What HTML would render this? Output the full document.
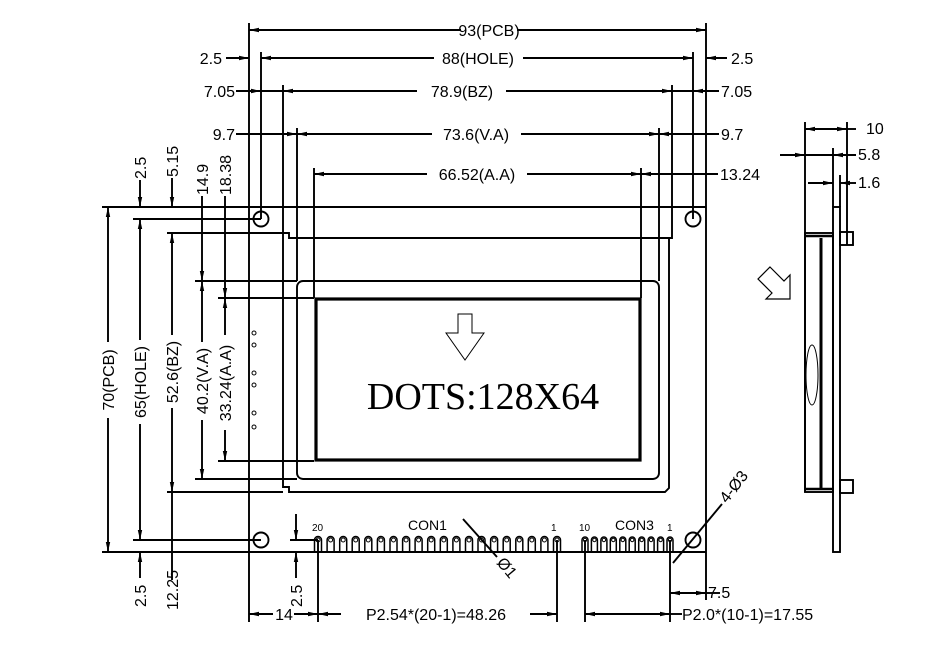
<!DOCTYPE html>
<html><head><meta charset="utf-8"><style>
body{margin:0;background:#fff}
svg{display:block}
text{font-family:"Liberation Sans",sans-serif;font-size:16px;fill:#000}
</style></head><body>
<svg width="942" height="659" viewBox="0 0 942 659" xmlns="http://www.w3.org/2000/svg">
<defs>
<marker id="a" markerWidth="10" markerHeight="6" refX="10" refY="3" orient="auto-start-reverse" markerUnits="userSpaceOnUse"><path d="M0,0.8 L10,3 L0,5.2z" fill="#000"/></marker>
<g id="p1"><path d="M-3.5,552 V540 A3.5,3.5 0 0 1 3.5,540 V552" fill="none" stroke="#000" stroke-width="1.5"/><circle cx="0" cy="540" r="2" fill="none" stroke="#000" stroke-width="1"/></g>
<g id="p3"><path d="M-3,552 V540 A3,3 0 0 1 3,540 V552" fill="none" stroke="#000" stroke-width="1.5"/><circle cx="0" cy="540" r="1.7" fill="none" stroke="#000" stroke-width="1"/></g>
</defs>
<g stroke="#000" stroke-width="1.9" fill="none">
<line x1="102" y1="207" x2="706" y2="207"/>
<line x1="102" y1="552" x2="706" y2="552"/>
<line x1="249" y1="23" x2="249" y2="622"/>
<line x1="706" y1="23" x2="706" y2="600"/>
<circle cx="261" cy="219" r="7.5"/><circle cx="693" cy="219" r="7.5"/>
<circle cx="261" cy="540" r="7.5"/><circle cx="693" cy="540" r="7.5"/>
<line x1="261" y1="52" x2="261" y2="219"/><line x1="693" y1="52" x2="693" y2="219"/>
<line x1="133" y1="219" x2="261" y2="219"/><line x1="133" y1="540" x2="261" y2="540"/>
<path d="M283,85 V233 H289 V238 H672 V85"/>
<path d="M167,233 H283"/>
<path d="M283,233 V487 H289 V492 H665 L669,488 V238"/>
<path d="M167,492 H283"/>
<rect x="297" y="281" width="362" height="198" rx="6"/>
<line x1="297" y1="128" x2="297" y2="281"/><line x1="659" y1="128" x2="659" y2="281"/>
<line x1="195" y1="281" x2="297" y2="281"/><line x1="195" y1="479" x2="297" y2="479"/>
<line x1="314" y1="168" x2="314" y2="298"/><line x1="641" y1="168" x2="641" y2="298"/>
<line x1="218" y1="298" x2="314" y2="298"/><line x1="218" y1="461" x2="314" y2="461"/>
<rect x="316" y="299" width="324" height="161" stroke-width="3.2"/>
<path d="M458,314 H472 V333 H484 L465,360 L446,333 H458 Z" stroke-width="1"/>
<line x1="249" y1="30" x2="461" y2="30" marker-start="url(#a)"/>
<line x1="517" y1="30" x2="706" y2="30" marker-end="url(#a)"/>
<line x1="226" y1="58" x2="249" y2="58" marker-end="url(#a)"/>
<line x1="261" y1="58" x2="434" y2="58" marker-start="url(#a)"/>
<line x1="523" y1="58" x2="693" y2="58" marker-end="url(#a)"/>
<line x1="706" y1="58" x2="727" y2="58" marker-start="url(#a)"/>
<line x1="236" y1="91" x2="283" y2="91"/><line x1="236" y1="91" x2="261" y2="91" marker-end="url(#a)"/>
<line x1="283" y1="91" x2="417" y2="91" marker-start="url(#a)"/>
<line x1="506" y1="91" x2="672" y2="91" marker-end="url(#a)"/>
<line x1="672" y1="91" x2="719" y2="91"/><line x1="693" y1="91" x2="719" y2="91" marker-start="url(#a)"/>
<line x1="236" y1="134" x2="297" y2="134"/><line x1="261" y1="134" x2="297" y2="134" marker-end="url(#a)"/>
<line x1="297" y1="134" x2="432" y2="134" marker-start="url(#a)"/>
<line x1="521" y1="134" x2="659" y2="134" marker-end="url(#a)"/>
<line x1="659" y1="134" x2="719" y2="134"/><line x1="659" y1="134" x2="693" y2="134" marker-start="url(#a)"/>
<line x1="314" y1="174" x2="427" y2="174" marker-start="url(#a)"/>
<line x1="527" y1="174" x2="641" y2="174" marker-end="url(#a)"/>
<line x1="641" y1="174" x2="718" y2="174"/><line x1="641" y1="174" x2="693" y2="174" marker-start="url(#a)"/>
<line x1="108" y1="207" x2="108" y2="342" marker-start="url(#a)"/><line x1="108" y1="418" x2="108" y2="552" marker-end="url(#a)"/>
<line x1="140" y1="219" x2="140" y2="340" marker-start="url(#a)"/><line x1="140" y1="424" x2="140" y2="540" marker-end="url(#a)"/>
<line x1="140" y1="180" x2="140" y2="207" marker-end="url(#a)"/>
<line x1="140" y1="552" x2="140" y2="578" marker-start="url(#a)"/>
<line x1="172" y1="233" x2="172" y2="335" marker-start="url(#a)"/><line x1="172" y1="408" x2="172" y2="492" marker-end="url(#a)"/>
<line x1="172" y1="178" x2="172" y2="207" marker-end="url(#a)"/>
<line x1="172" y1="492" x2="172" y2="552"/><line x1="172" y1="552" x2="172" y2="580"/>
<line x1="202" y1="196" x2="202" y2="281" marker-end="url(#a)"/>
<line x1="202" y1="281" x2="202" y2="342" marker-start="url(#a)"/><line x1="202" y1="420" x2="202" y2="479" marker-end="url(#a)"/>
<line x1="225" y1="196" x2="225" y2="298" marker-end="url(#a)"/>
<line x1="225" y1="298" x2="225" y2="335" marker-start="url(#a)"/><line x1="225" y1="430" x2="225" y2="461" marker-end="url(#a)"/>
<line x1="296" y1="514" x2="296" y2="540" marker-end="url(#a)"/>
<line x1="290" y1="540" x2="318" y2="540"/>
<line x1="296" y1="552" x2="296" y2="578" marker-start="url(#a)"/>
<line x1="318" y1="540" x2="318" y2="622"/><line x1="557" y1="540" x2="557" y2="622"/>
<line x1="585" y1="540" x2="585" y2="622"/><line x1="670" y1="540" x2="670" y2="622"/>
<line x1="249" y1="614" x2="273" y2="614" marker-start="url(#a)"/><line x1="294" y1="614" x2="318" y2="614" marker-end="url(#a)"/>
<line x1="318" y1="614" x2="341" y2="614" marker-start="url(#a)"/><line x1="530" y1="614" x2="557" y2="614" marker-end="url(#a)"/>
<line x1="585" y1="614" x2="670" y2="614" marker-start="url(#a)" marker-end="url(#a)"/>
<line x1="670" y1="593" x2="706" y2="593" marker-start="url(#a)" marker-end="url(#a)"/>
<line x1="706" y1="593" x2="720" y2="593"/>
<line x1="670" y1="614" x2="682" y2="614"/>
<line x1="463" y1="519" x2="497" y2="557"/>
<line x1="673" y1="563" x2="722" y2="504"/>
<circle cx="254" cy="333" r="2" stroke-width="1"/><circle cx="254" cy="345" r="2" stroke-width="1"/>
<circle cx="254" cy="373" r="2" stroke-width="1"/><circle cx="254" cy="385" r="2" stroke-width="1"/>
<circle cx="254" cy="413" r="2" stroke-width="1"/><circle cx="254" cy="427" r="2" stroke-width="1"/>
<path d="M770,267 L784,281 L790,275 L790,299 L766,299 L772,293 L758,279 Z" stroke-width="1.2"/>
<line x1="805" y1="122" x2="805" y2="492"/>
<line x1="847" y1="122" x2="847" y2="245"/>
<line x1="833" y1="148" x2="833" y2="207"/>
<line x1="840" y1="175" x2="840" y2="207"/>
<rect x="833" y="207" width="7" height="345"/>
<rect x="805" y="233" width="28" height="259"/>
<line x1="805" y1="236" x2="833" y2="236" stroke-width="2.5"/>
<line x1="805" y1="489" x2="833" y2="489" stroke-width="2.5"/>
<line x1="821" y1="238" x2="821" y2="489" stroke-width="3"/>
<rect x="840" y="232" width="13" height="13"/>
<rect x="840" y="480" width="13" height="13"/>
<ellipse cx="812" cy="375" rx="6" ry="30" stroke-width="1"/>
<line x1="805" y1="129" x2="847" y2="129" marker-start="url(#a)" marker-end="url(#a)"/>
<line x1="847" y1="129" x2="856" y2="129"/>
<line x1="780" y1="155" x2="805" y2="155" marker-end="url(#a)"/>
<line x1="805" y1="155" x2="833" y2="155"/>
<line x1="833" y1="155" x2="856" y2="155" marker-start="url(#a)"/>
<line x1="808" y1="183" x2="833" y2="183" marker-end="url(#a)"/>
<line x1="840" y1="183" x2="856" y2="183" marker-start="url(#a)"/>
</g>
<g>
<use href="#p1" x="318"/><use href="#p1" x="330.6"/><use href="#p1" x="343.2"/><use href="#p1" x="355.7"/><use href="#p1" x="368.3"/>
<use href="#p1" x="380.9"/><use href="#p1" x="393.5"/><use href="#p1" x="406.1"/><use href="#p1" x="418.6"/><use href="#p1" x="431.2"/>
<use href="#p1" x="443.8"/><use href="#p1" x="456.4"/><use href="#p1" x="469"/><use href="#p1" x="481.5"/><use href="#p1" x="494.1"/>
<use href="#p1" x="506.7"/><use href="#p1" x="519.3"/><use href="#p1" x="531.8"/><use href="#p1" x="544.4"/><use href="#p1" x="557"/>
<use href="#p3" x="585"/><use href="#p3" x="594.4"/><use href="#p3" x="603.9"/><use href="#p3" x="613.3"/><use href="#p3" x="622.8"/>
<use href="#p3" x="632.2"/><use href="#p3" x="641.7"/><use href="#p3" x="651.1"/><use href="#p3" x="660.6"/><use href="#p3" x="670"/>
</g>
<text x="489" y="36" text-anchor="middle">93(PCB)</text>
<text x="478" y="64" text-anchor="middle">88(HOLE)</text>
<text x="462" y="97" text-anchor="middle">78.9(BZ)</text>
<text x="476" y="140" text-anchor="middle">73.6(V.A)</text>
<text x="477" y="180" text-anchor="middle">66.52(A.A)</text>
<text x="222" y="64" text-anchor="end">2.5</text>
<text x="235" y="97" text-anchor="end">7.05</text>
<text x="235" y="140" text-anchor="end">9.7</text>
<text x="731" y="64">2.5</text>
<text x="721" y="97">7.05</text>
<text x="721" y="140">9.7</text>
<text x="720" y="180">13.24</text>
<text x="866" y="134">10</text>
<text x="858" y="160">5.8</text>
<text x="858" y="188">1.6</text>
<text transform="translate(114,380) rotate(-90)" text-anchor="middle">70(PCB)</text>
<text transform="translate(146,382) rotate(-90)" text-anchor="middle">65(HOLE)</text>
<text transform="translate(178,372) rotate(-90)" text-anchor="middle">52.6(BZ)</text>
<text transform="translate(208,381) rotate(-90)" text-anchor="middle">40.2(V.A)</text>
<text transform="translate(231,383) rotate(-90)" text-anchor="middle">33.24(A.A)</text>
<text transform="translate(146,179) rotate(-90)">2.5</text>
<text transform="translate(178,177) rotate(-90)">5.15</text>
<text transform="translate(208,195) rotate(-90)">14.9</text>
<text transform="translate(231,195) rotate(-90)">18.38</text>
<text transform="translate(146,607) rotate(-90)">2.5</text>
<text transform="translate(178,610) rotate(-90)">12.25</text>
<text transform="translate(302,607) rotate(-90)">2.5</text>
<text x="284" y="620" text-anchor="middle">14</text>
<text x="436" y="620" text-anchor="middle">P2.54*(20-1)=48.26</text>
<text x="682" y="620">P2.0*(10-1)=17.55</text>
<text x="708" y="598">7.5</text>
<text x="408" y="530" style="font-size:14px">CON1</text>
<text x="615" y="530" style="font-size:14px">CON3</text>
<text x="312" y="531" style="font-size:10px">20</text>
<text x="551" y="531" style="font-size:10px">1</text>
<text x="579" y="531" style="font-size:10px">10</text>
<text x="667" y="531" style="font-size:10px">1</text>
<text transform="translate(496,563) rotate(50)">Ø1</text>
<text transform="translate(727,504) rotate(-52)">4-Ø3</text>
<text x="483" y="409" text-anchor="middle" style="font-family:'Liberation Serif',serif;font-size:38px">DOTS:128X64</text>
</svg>
</body></html>
